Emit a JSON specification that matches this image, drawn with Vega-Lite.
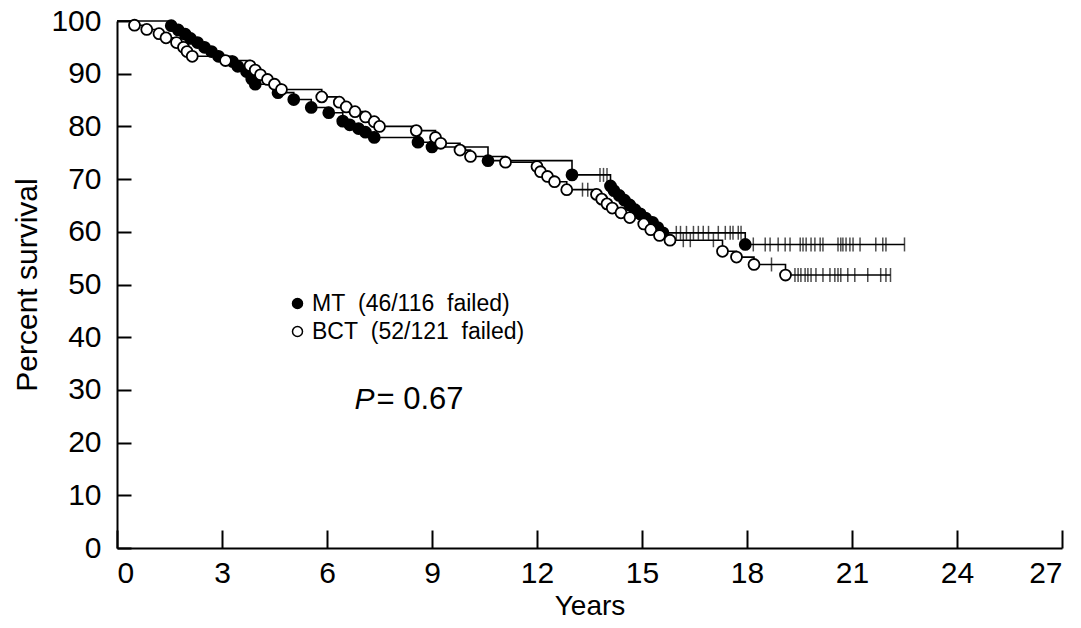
{
  "$schema": "https://vega.github.io/schema/vega-lite/v6.json",
  "width": 945,
  "height": 527,
  "autosize": {"type": "none"},
  "padding": {"left": 117, "top": 21, "right": 19, "bottom": 80},
  "background": "white",
  "config": {
    "view": {"stroke": null},
    "font": "Liberation Sans",
    "axis": {
      "domainColor": "black", "domainWidth": 2, "tickColor": "black", "tickWidth": 2,
      "labelColor": "black", "titleColor": "black", "labelFont": "Liberation Sans",
      "titleFont": "Liberation Sans", "titleFontWeight": "normal", "grid": false
    }
  },
  "datasets": {
    "km": [
      {"arm": "MT", "t": 0, "s": 100, "kind": "start"},
      {"arm": "MT", "t": 1.55, "s": 99.1, "kind": "event"},
      {"arm": "MT", "t": 1.75, "s": 98.3, "kind": "event"},
      {"arm": "MT", "t": 1.95, "s": 97.5, "kind": "event"},
      {"arm": "MT", "t": 2.1, "s": 96.7, "kind": "event"},
      {"arm": "MT", "t": 2.3, "s": 95.9, "kind": "event"},
      {"arm": "MT", "t": 2.5, "s": 95.0, "kind": "event"},
      {"arm": "MT", "t": 2.7, "s": 94.2, "kind": "event"},
      {"arm": "MT", "t": 2.9, "s": 93.3, "kind": "event"},
      {"arm": "MT", "t": 3.3, "s": 92.3, "kind": "event"},
      {"arm": "MT", "t": 3.45, "s": 91.4, "kind": "event"},
      {"arm": "MT", "t": 3.7, "s": 90.4, "kind": "event"},
      {"arm": "MT", "t": 3.85, "s": 89.0, "kind": "event"},
      {"arm": "MT", "t": 3.95, "s": 88.0, "kind": "event"},
      {"arm": "MT", "t": 4.6, "s": 86.4, "kind": "event"},
      {"arm": "MT", "t": 5.05, "s": 85.1, "kind": "event"},
      {"arm": "MT", "t": 5.55, "s": 83.6, "kind": "event"},
      {"arm": "MT", "t": 6.05, "s": 82.6, "kind": "event"},
      {"arm": "MT", "t": 6.45, "s": 81.0, "kind": "event"},
      {"arm": "MT", "t": 6.65, "s": 80.3, "kind": "event"},
      {"arm": "MT", "t": 6.9, "s": 79.6, "kind": "event"},
      {"arm": "MT", "t": 7.1, "s": 78.9, "kind": "event"},
      {"arm": "MT", "t": 7.35, "s": 77.9, "kind": "event"},
      {"arm": "MT", "t": 8.6, "s": 77.0, "kind": "event"},
      {"arm": "MT", "t": 9.0, "s": 76.1, "kind": "event"},
      {"arm": "MT", "t": 10.6, "s": 73.5, "kind": "event"},
      {"arm": "MT", "t": 13.0, "s": 70.8, "kind": "event"},
      {"arm": "MT", "t": 13.8, "s": 70.8, "kind": "censor"},
      {"arm": "MT", "t": 13.9, "s": 70.8, "kind": "censor"},
      {"arm": "MT", "t": 14.0, "s": 70.8, "kind": "censor"},
      {"arm": "MT", "t": 14.1, "s": 68.7, "kind": "event"},
      {"arm": "MT", "t": 14.2, "s": 67.8, "kind": "event"},
      {"arm": "MT", "t": 14.35, "s": 66.9, "kind": "event"},
      {"arm": "MT", "t": 14.5, "s": 66.0, "kind": "event"},
      {"arm": "MT", "t": 14.65, "s": 65.1, "kind": "event"},
      {"arm": "MT", "t": 14.8, "s": 64.2, "kind": "event"},
      {"arm": "MT", "t": 14.95, "s": 63.4, "kind": "event"},
      {"arm": "MT", "t": 15.1, "s": 62.6, "kind": "event"},
      {"arm": "MT", "t": 15.3, "s": 61.8, "kind": "event"},
      {"arm": "MT", "t": 15.45, "s": 60.8, "kind": "event"},
      {"arm": "MT", "t": 15.6, "s": 59.8, "kind": "event"},
      {"arm": "MT", "t": 15.98, "s": 59.8, "kind": "censor"},
      {"arm": "MT", "t": 16.1, "s": 59.8, "kind": "censor"},
      {"arm": "MT", "t": 16.27, "s": 59.8, "kind": "censor"},
      {"arm": "MT", "t": 16.47, "s": 59.8, "kind": "censor"},
      {"arm": "MT", "t": 16.61, "s": 59.8, "kind": "censor"},
      {"arm": "MT", "t": 16.75, "s": 59.8, "kind": "censor"},
      {"arm": "MT", "t": 16.9, "s": 59.8, "kind": "censor"},
      {"arm": "MT", "t": 17.18, "s": 59.8, "kind": "censor"},
      {"arm": "MT", "t": 17.38, "s": 59.8, "kind": "censor"},
      {"arm": "MT", "t": 17.52, "s": 59.8, "kind": "censor"},
      {"arm": "MT", "t": 17.6, "s": 59.8, "kind": "censor"},
      {"arm": "MT", "t": 17.75, "s": 59.8, "kind": "censor"},
      {"arm": "MT", "t": 17.83, "s": 59.8, "kind": "censor"},
      {"arm": "MT", "t": 17.95, "s": 57.6, "kind": "event"},
      {"arm": "MT", "t": 18.18, "s": 57.6, "kind": "censor"},
      {"arm": "MT", "t": 18.52, "s": 57.6, "kind": "censor"},
      {"arm": "MT", "t": 18.66, "s": 57.6, "kind": "censor"},
      {"arm": "MT", "t": 18.89, "s": 57.6, "kind": "censor"},
      {"arm": "MT", "t": 19.09, "s": 57.6, "kind": "censor"},
      {"arm": "MT", "t": 19.23, "s": 57.6, "kind": "censor"},
      {"arm": "MT", "t": 19.52, "s": 57.6, "kind": "censor"},
      {"arm": "MT", "t": 19.6, "s": 57.6, "kind": "censor"},
      {"arm": "MT", "t": 19.69, "s": 57.6, "kind": "censor"},
      {"arm": "MT", "t": 19.83, "s": 57.6, "kind": "censor"},
      {"arm": "MT", "t": 19.94, "s": 57.6, "kind": "censor"},
      {"arm": "MT", "t": 20.09, "s": 57.6, "kind": "censor"},
      {"arm": "MT", "t": 20.17, "s": 57.6, "kind": "censor"},
      {"arm": "MT", "t": 20.6, "s": 57.6, "kind": "censor"},
      {"arm": "MT", "t": 20.68, "s": 57.6, "kind": "censor"},
      {"arm": "MT", "t": 20.74, "s": 57.6, "kind": "censor"},
      {"arm": "MT", "t": 20.83, "s": 57.6, "kind": "censor"},
      {"arm": "MT", "t": 20.94, "s": 57.6, "kind": "censor"},
      {"arm": "MT", "t": 21.03, "s": 57.6, "kind": "censor"},
      {"arm": "MT", "t": 21.23, "s": 57.6, "kind": "censor"},
      {"arm": "MT", "t": 21.68, "s": 57.6, "kind": "censor"},
      {"arm": "MT", "t": 21.88, "s": 57.6, "kind": "censor"},
      {"arm": "MT", "t": 21.97, "s": 57.6, "kind": "censor"},
      {"arm": "MT", "t": 22.5, "s": 57.6, "kind": "end"},
      {"arm": "BCT", "t": 0, "s": 100, "kind": "start"},
      {"arm": "BCT", "t": 0.5, "s": 99.2, "kind": "event"},
      {"arm": "BCT", "t": 0.85, "s": 98.4, "kind": "event"},
      {"arm": "BCT", "t": 1.2, "s": 97.6, "kind": "event"},
      {"arm": "BCT", "t": 1.4, "s": 96.8, "kind": "event"},
      {"arm": "BCT", "t": 1.7, "s": 95.9, "kind": "event"},
      {"arm": "BCT", "t": 1.9, "s": 95.0, "kind": "event"},
      {"arm": "BCT", "t": 2.0, "s": 94.2, "kind": "event"},
      {"arm": "BCT", "t": 2.15, "s": 93.3, "kind": "event"},
      {"arm": "BCT", "t": 3.1, "s": 92.5, "kind": "event"},
      {"arm": "BCT", "t": 3.8, "s": 91.5, "kind": "event"},
      {"arm": "BCT", "t": 3.95, "s": 90.7, "kind": "event"},
      {"arm": "BCT", "t": 4.1, "s": 89.8, "kind": "event"},
      {"arm": "BCT", "t": 4.3, "s": 88.9, "kind": "event"},
      {"arm": "BCT", "t": 4.5, "s": 88.0, "kind": "event"},
      {"arm": "BCT", "t": 4.7, "s": 87.0, "kind": "event"},
      {"arm": "BCT", "t": 5.85, "s": 85.6, "kind": "event"},
      {"arm": "BCT", "t": 6.35, "s": 84.6, "kind": "event"},
      {"arm": "BCT", "t": 6.55, "s": 83.7, "kind": "event"},
      {"arm": "BCT", "t": 6.8, "s": 82.8, "kind": "event"},
      {"arm": "BCT", "t": 7.1, "s": 81.8, "kind": "event"},
      {"arm": "BCT", "t": 7.35, "s": 80.9, "kind": "event"},
      {"arm": "BCT", "t": 7.5, "s": 80.0, "kind": "event"},
      {"arm": "BCT", "t": 8.55, "s": 79.2, "kind": "event"},
      {"arm": "BCT", "t": 9.1, "s": 77.9, "kind": "event"},
      {"arm": "BCT", "t": 9.25, "s": 76.8, "kind": "event"},
      {"arm": "BCT", "t": 9.8, "s": 75.5, "kind": "event"},
      {"arm": "BCT", "t": 10.1, "s": 74.3, "kind": "event"},
      {"arm": "BCT", "t": 11.1, "s": 73.2, "kind": "event"},
      {"arm": "BCT", "t": 12.0, "s": 72.4, "kind": "event"},
      {"arm": "BCT", "t": 12.1, "s": 71.4, "kind": "event"},
      {"arm": "BCT", "t": 12.3, "s": 70.5, "kind": "event"},
      {"arm": "BCT", "t": 12.5, "s": 69.5, "kind": "event"},
      {"arm": "BCT", "t": 12.85, "s": 68.0, "kind": "event"},
      {"arm": "BCT", "t": 13.3, "s": 68.0, "kind": "censor"},
      {"arm": "BCT", "t": 13.45, "s": 68.0, "kind": "censor"},
      {"arm": "BCT", "t": 13.7, "s": 67.1, "kind": "event"},
      {"arm": "BCT", "t": 13.85, "s": 66.2, "kind": "event"},
      {"arm": "BCT", "t": 14.0, "s": 65.3, "kind": "event"},
      {"arm": "BCT", "t": 14.15, "s": 64.5, "kind": "event"},
      {"arm": "BCT", "t": 14.4, "s": 63.6, "kind": "event"},
      {"arm": "BCT", "t": 14.65, "s": 62.7, "kind": "event"},
      {"arm": "BCT", "t": 15.05, "s": 61.5, "kind": "event"},
      {"arm": "BCT", "t": 15.25, "s": 60.4, "kind": "event"},
      {"arm": "BCT", "t": 15.5, "s": 59.3, "kind": "event"},
      {"arm": "BCT", "t": 15.8, "s": 58.4, "kind": "event"},
      {"arm": "BCT", "t": 16.18, "s": 58.4, "kind": "censor"},
      {"arm": "BCT", "t": 16.38, "s": 58.4, "kind": "censor"},
      {"arm": "BCT", "t": 17.04, "s": 58.4, "kind": "censor"},
      {"arm": "BCT", "t": 17.3, "s": 56.3, "kind": "event"},
      {"arm": "BCT", "t": 17.7, "s": 55.2, "kind": "event"},
      {"arm": "BCT", "t": 18.2, "s": 53.8, "kind": "event"},
      {"arm": "BCT", "t": 18.7, "s": 53.8, "kind": "censor"},
      {"arm": "BCT", "t": 19.1, "s": 51.8, "kind": "event"},
      {"arm": "BCT", "t": 19.37, "s": 51.8, "kind": "censor"},
      {"arm": "BCT", "t": 19.46, "s": 51.8, "kind": "censor"},
      {"arm": "BCT", "t": 19.54, "s": 51.8, "kind": "censor"},
      {"arm": "BCT", "t": 19.66, "s": 51.8, "kind": "censor"},
      {"arm": "BCT", "t": 19.74, "s": 51.8, "kind": "censor"},
      {"arm": "BCT", "t": 19.83, "s": 51.8, "kind": "censor"},
      {"arm": "BCT", "t": 19.97, "s": 51.8, "kind": "censor"},
      {"arm": "BCT", "t": 20.17, "s": 51.8, "kind": "censor"},
      {"arm": "BCT", "t": 20.37, "s": 51.8, "kind": "censor"},
      {"arm": "BCT", "t": 20.51, "s": 51.8, "kind": "censor"},
      {"arm": "BCT", "t": 20.6, "s": 51.8, "kind": "censor"},
      {"arm": "BCT", "t": 20.68, "s": 51.8, "kind": "censor"},
      {"arm": "BCT", "t": 20.88, "s": 51.8, "kind": "censor"},
      {"arm": "BCT", "t": 21.08, "s": 51.8, "kind": "censor"},
      {"arm": "BCT", "t": 21.45, "s": 51.8, "kind": "censor"},
      {"arm": "BCT", "t": 21.82, "s": 51.8, "kind": "censor"},
      {"arm": "BCT", "t": 21.97, "s": 51.8, "kind": "censor"},
      {"arm": "BCT", "t": 22.1, "s": 51.8, "kind": "end"}
    ],
    "notes": [
      {"t": 7.07, "s": 28.1, "italic": "P", "rest": "= 0.67"}
    ]
  },
  "layer": [
    {
      "data": {"name": "km"},
      "mark": {"type": "line", "interpolate": "step-after", "color": "black", "strokeWidth": 1.6},
      "encoding": {
        "x": {"field": "t", "type": "quantitative", "scale": {"domain": [0, 27], "nice": false},
          "axis": {"values": [0, 3, 6, 9, 12, 15, 18, 21, 24, 27], "tickSize": -18, "labelPadding": 28,
            "labelFontSize": 30, "title": "Years", "titleFontSize": 28, "titlePadding": 4}},
        "y": {"field": "s", "type": "quantitative", "scale": {"domain": [0, 100], "nice": false},
          "axis": {"values": [0, 10, 20, 30, 40, 50, 60, 70, 80, 90, 100], "tickSize": -14, "labelPadding": 30,
            "labelFontSize": 30, "title": "Percent survival", "titleFontSize": 30, "titlePadding": 8}},
        "detail": {"field": "arm"}
      }
    },
    {
      "data": {"name": "km"},
      "transform": [{"filter": "datum.kind === 'censor' || datum.kind === 'end'"}],
      "mark": {"type": "tick", "orient": "vertical", "color": "black", "size": 14, "thickness": 1.5},
      "encoding": {
        "x": {"field": "t", "type": "quantitative"},
        "y": {"field": "s", "type": "quantitative"}
      }
    },
    {
      "data": {"name": "km"},
      "transform": [{"filter": "datum.kind === 'event'"}],
      "mark": {"type": "point", "shape": "circle", "filled": true, "stroke": "black", "strokeWidth": 1.8, "size": 120, "opacity": 1},
      "encoding": {
        "x": {"field": "t", "type": "quantitative"},
        "y": {"field": "s", "type": "quantitative"},
        "fill": {"field": "arm", "type": "nominal",
          "scale": {"domain": ["MT", "BCT"], "range": ["black", "white"]},
          "legend": {"orient": "none", "legendX": 169, "legendY": 271, "title": null,
            "labelExpr": "datum.label === 'MT' ? 'MT\u00a0\u00a0(46/116\u00a0\u00a0failed)' : 'BCT\u00a0\u00a0(52/121\u00a0\u00a0failed)'",
            "labelFont": "Liberation Sans", "labelFontSize": 23, "labelColor": "black", "labelLimit": 0,
            "symbolSize": 100, "symbolStrokeColor": "black", "symbolStrokeWidth": 1.5,
            "symbolType": "circle", "labelOffset": 3, "rowPadding": 4, "padding": 0}}
      }
    },
    {
      "data": {"name": "notes"},
      "mark": {"type": "text", "fontStyle": "italic", "fontSize": 30, "align": "center", "baseline": "middle", "color": "black", "font": "Liberation Sans"},
      "encoding": {
        "x": {"field": "t", "type": "quantitative"},
        "y": {"field": "s", "type": "quantitative"},
        "text": {"field": "italic"}
      }
    },
    {
      "data": {"name": "notes"},
      "mark": {"type": "text", "fontSize": 31, "align": "left", "baseline": "middle", "dx": 12, "color": "black", "font": "Liberation Sans"},
      "encoding": {
        "x": {"field": "t", "type": "quantitative"},
        "y": {"field": "s", "type": "quantitative"},
        "text": {"field": "rest"}
      }
    }
  ]
}
